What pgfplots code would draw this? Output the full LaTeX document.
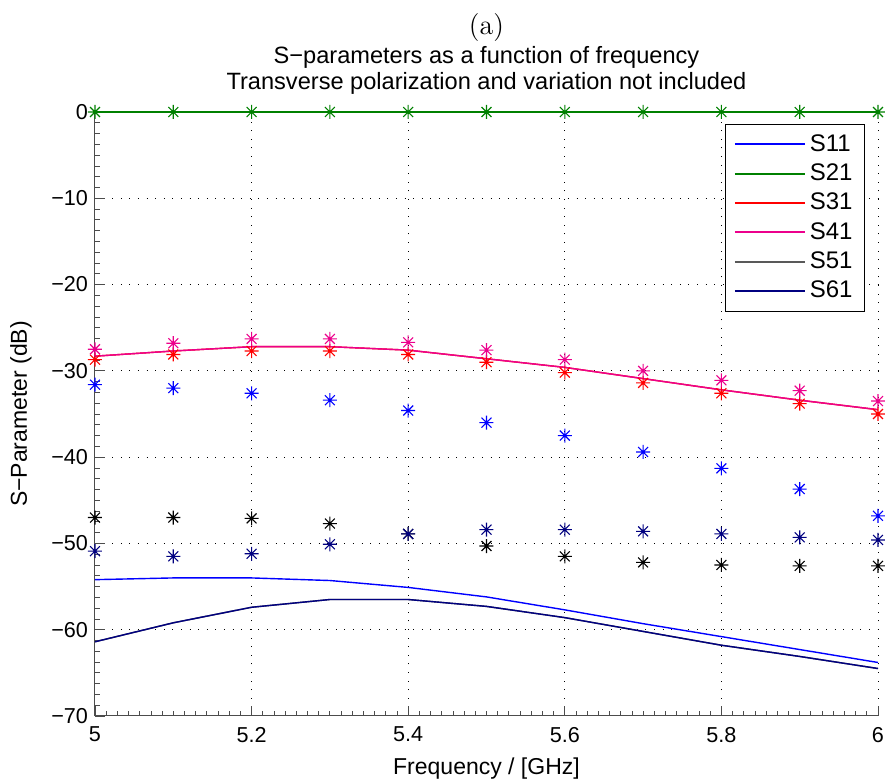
\documentclass[border=0pt]{standalone}
\usepackage{pgfplots}
\pgfplotsset{compat=1.18}
\usepackage{fontspec}
\newfontfamily\hel{Liberation Sans}
\definecolor{mgreen}{rgb}{0,0.5,0}
\definecolor{mnavy}{rgb}{0,0,0.5}
\pgfdeclareplotmark{mstar}{%
  \pgfpathmoveto{\pgfqpoint{-\pgfplotmarksize}{0pt}}\pgfpathlineto{\pgfqpoint{\pgfplotmarksize}{0pt}}%
  \pgfpathmoveto{\pgfqpoint{0pt}{-\pgfplotmarksize}}\pgfpathlineto{\pgfqpoint{0pt}{\pgfplotmarksize}}%
  \pgfpathmoveto{\pgfqpoint{-0.707\pgfplotmarksize}{-0.707\pgfplotmarksize}}\pgfpathlineto{\pgfqpoint{0.707\pgfplotmarksize}{0.707\pgfplotmarksize}}%
  \pgfpathmoveto{\pgfqpoint{-0.707\pgfplotmarksize}{0.707\pgfplotmarksize}}\pgfpathlineto{\pgfqpoint{0.707\pgfplotmarksize}{-0.707\pgfplotmarksize}}%
  \pgfusepathqstroke}
\begin{document}
\begin{tikzpicture}
\begin{axis}[
  scale only axis, width=391.5pt, height=302pt,
  xmin=5, xmax=6, ymin=-70, ymax=0,
  axis x line*=bottom, axis y line*=left,
  axis line style={-, line width=0.5pt, black!70},
  xtick={5,5.2,5.4,5.6,5.8,6},
  xticklabels={5,5.2,5.4,5.6,5.8,6},
  ytick={-70,-60,-50,-40,-30,-20,-10,0},
  yticklabels={−70,−60,−50,−40,−30,−20,−10,0},
  minor x tick num=13, minor y tick num=7,
  tick align=inside,
  major tick length=5pt, minor tick length=2.5pt,
  tick style={black!70, line width=0.4pt},
  grid=major,
  major grid style={black, dash pattern=on 0.5pt off 3.8pt, line width=0.5pt},
  ticklabel style={font=\hel\fontsize{10.8}{12}\selectfont},
  xticklabel style={yshift=-2pt},
  xlabel={Frequency / [GHz]},
  ylabel={S−Parameter (dB)},
  label style={font=\hel\fontsize{11.5}{13}\selectfont},
  xlabel style={yshift=-1pt},
  ylabel style={yshift=3pt},
  clip=false,
  legend style={at={(rel axis cs:1,1)}, xshift=-6.5pt, yshift=-6pt, anchor=north east,
    draw=black, font=\hel\fontsize{12}{14}\selectfont,
    row sep=0.8pt, inner xsep=4pt, inner ysep=3pt},
  legend cell align=left,
  legend image code/.code={\draw[#1, line width=1pt] (0pt,0pt) -- (35pt,0pt);},
  every axis plot/.append style={line width=0.7pt},
]
% simulated lines
\addplot[blue, no marks] coordinates {(5,-54.2)(5.1,-54.0)(5.2,-54.0)(5.3,-54.3)(5.4,-55.1)(5.5,-56.2)(5.6,-57.7)(5.7,-59.3)(5.8,-60.8)(5.9,-62.3)(6,-63.8)};
\addlegendentry{S11}
\addplot[mgreen, no marks] coordinates {(5,0)(5.1,0)(5.2,0)(5.3,0)(5.4,0)(5.5,0)(5.6,0)(5.7,0)(5.8,0)(5.9,0)(6,0)};
\addlegendentry{S21}
\addplot[red, no marks] coordinates {(5,-28.3)(5.1,-27.7)(5.2,-27.2)(5.3,-27.2)(5.4,-27.6)(5.5,-28.6)(5.6,-29.6)(5.7,-30.9)(5.8,-32.2)(5.9,-33.4)(6,-34.5)};
\addlegendentry{S31}
\addplot[magenta, no marks] coordinates {(5,-28.3)(5.1,-27.7)(5.2,-27.2)(5.3,-27.2)(5.4,-27.6)(5.5,-28.6)(5.6,-29.6)(5.7,-30.9)(5.8,-32.2)(5.9,-33.4)(6,-34.5)};
\addlegendentry{S41}
\addplot[black!65, no marks] coordinates {(5,-61.4)(5.1,-59.2)(5.2,-57.4)(5.3,-56.5)(5.4,-56.5)(5.5,-57.3)(5.6,-58.6)(5.7,-60.2)(5.8,-61.8)(5.9,-63.1)(6,-64.5)};
\addlegendentry{S51}
\addplot[mnavy, no marks] coordinates {(5,-61.4)(5.1,-59.2)(5.2,-57.4)(5.3,-56.5)(5.4,-56.5)(5.5,-57.3)(5.6,-58.6)(5.7,-60.2)(5.8,-61.8)(5.9,-63.1)(6,-64.5)};
\addlegendentry{S61}
% measured markers
\addplot[forget plot, only marks, mark=mstar, mark size=3.5pt, line width=0.55pt, mgreen] coordinates {(5,0)(5.1,0)(5.2,0)(5.3,0)(5.4,0)(5.5,0)(5.6,0)(5.7,0)(5.8,0)(5.9,0)(6,0)};
\addplot[forget plot, only marks, mark=mstar, mark size=3.5pt, line width=0.55pt, blue] coordinates {(5,-31.6)(5.1,-32.0)(5.2,-32.6)(5.3,-33.4)(5.4,-34.6)(5.5,-36.0)(5.6,-37.5)(5.7,-39.4)(5.8,-41.3)(5.9,-43.7)(6,-46.8)};
\addplot[forget plot, only marks, mark=mstar, mark size=3.5pt, line width=0.55pt, red] coordinates {(5,-28.7)(5.1,-28.1)(5.2,-27.7)(5.3,-27.7)(5.4,-28.1)(5.5,-29.0)(5.6,-30.2)(5.7,-31.4)(5.8,-32.6)(5.9,-33.8)(6,-35.0)};
\addplot[forget plot, only marks, mark=mstar, mark size=3.5pt, line width=0.55pt, magenta] coordinates {(5,-27.5)(5.1,-26.8)(5.2,-26.3)(5.3,-26.3)(5.4,-26.7)(5.5,-27.6)(5.6,-28.7)(5.7,-30.0)(5.8,-31.1)(5.9,-32.3)(6,-33.5)};
\addplot[forget plot, only marks, mark=mstar, mark size=3.5pt, line width=0.55pt, black] coordinates {(5,-47.0)(5.1,-47.0)(5.2,-47.1)(5.3,-47.7)(5.4,-48.9)(5.5,-50.3)(5.6,-51.5)(5.7,-52.2)(5.8,-52.5)(5.9,-52.6)(6,-52.6)};
\addplot[forget plot, only marks, mark=mstar, mark size=3.5pt, line width=0.55pt, mnavy] coordinates {(5,-50.9)(5.1,-51.5)(5.2,-51.2)(5.3,-50.1)(5.4,-48.9)(5.5,-48.4)(5.6,-48.4)(5.7,-48.6)(5.8,-48.9)(5.9,-49.3)(6,-49.6)};
\coordinate (sw) at (rel axis cs:0,0);
\coordinate (ne) at (rel axis cs:1,1);
\coordinate (tc) at (rel axis cs:0.5,1);
\end{axis}
\node[anchor=base, font=\hel\fontsize{11.8}{13}\selectfont, inner sep=0pt] at ([yshift=11pt]tc) {Transverse polarization and variation not included};
\node[anchor=base, font=\hel\fontsize{11.8}{13}\selectfont, inner sep=0pt] at ([yshift=24pt]tc) {S−parameters as a function of frequency};
\node[anchor=base, font=\fontsize{14}{16}\selectfont, inner sep=0pt] at ([yshift=38.5pt]tc) {(a)};
\pgfresetboundingbox
\useasboundingbox ([xshift=-47.5pt,yshift=-32pt]sw) rectangle ([xshift=3.5pt,yshift=56pt]ne);
\end{tikzpicture}
\end{document}
